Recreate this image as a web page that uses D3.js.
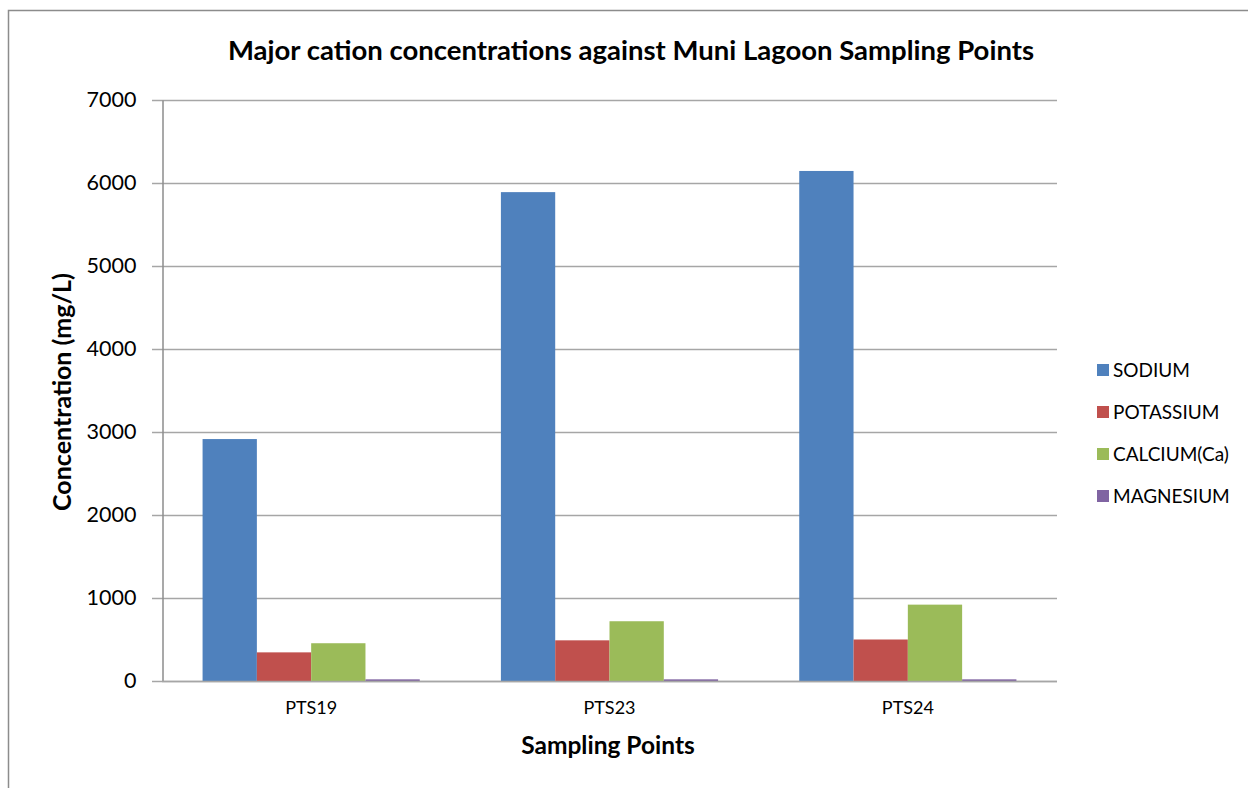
<!DOCTYPE html>
<html>
<head>
<meta charset="utf-8">
<script src="https://cdn.jsdelivr.net/npm/d3@7"></script>
<style>
  html, body { margin: 0; padding: 0; background: #fff; }
  svg { display: block; }
</style>
</head>
<body>
<svg id="chart" width="1248" height="788"></svg>
<script>
// Sampling points and cation concentrations (mg/L)
const categories = ["PTS19", "PTS23", "PTS24"];
const seriesNames = ["SODIUM", "POTASSIUM", "CALCIUM(Ca)", "MAGNESIUM"];
const sodium = [2915, 5890, 6145];
const potassium = [345, 490, 500];
const calcium = [455, 720, 920];
const magnesium = [20, 20, 20];
const yTicks = [0, 1000, 2000, 3000, 4000, 5000, 6000, 7000];
const colors = ["#4f81bd", "#c0504d", "#9bbb59", "#8064a2"];

const seriesValues = [sodium, potassium, calcium, magnesium];
const table = categories.map((c, i) => ({
  category: c,
  values: seriesNames.map((s, j) => ({ series: s, value: seriesValues[j][i] }))
}));

const svg = d3.select("#chart");
const font = "Lato, 'Open Sans', 'DejaVu Sans', sans-serif";

// Chart frame
svg.append("path")
  .attr("d", "M8.5,788 L8.5,10.5 L1248,10.5")
  .attr("fill", "none")
  .attr("stroke", "#8c8c8c")
  .attr("stroke-width", 1.5);

const plot = { left: 162, right: 1057, top: 100, bottom: 681 };

const x0 = d3.scaleBand()
  .domain(categories)
  .range([plot.left, plot.right])
  .paddingInner(0.272)
  .paddingOuter(0.136);

const x1 = d3.scaleBand()
  .domain(seriesNames)
  .range([0, x0.bandwidth()]);

const y = d3.scaleLinear()
  .domain([0, 7000])
  .range([plot.bottom, plot.top]);

const color = d3.scaleOrdinal().domain(seriesNames).range(colors);

// Gridlines
svg.append("g")
  .selectAll("line")
  .data(yTicks)
  .join("line")
  .attr("x1", plot.left - 10)
  .attr("x2", plot.right)
  .attr("y1", d => Math.round(y(d)) + 0.5)
  .attr("y2", d => Math.round(y(d)) + 0.5)
  .attr("stroke", "#a6a6a6")
  .attr("stroke-width", 1.3);

// Y axis
const yAxis = svg.append("g")
  .attr("transform", `translate(${plot.left + 0.5},0)`)
  .call(d3.axisLeft(y).tickValues(yTicks).tickSize(0).tickPadding(26).tickFormat(d3.format("d")));
yAxis.select(".domain").attr("stroke", "#8c8c8c").attr("stroke-width", 1.5);
yAxis.selectAll("text")
  .attr("font-family", font)
  .attr("font-size", 21.5)
  .attr("fill", "#000");

// Bars
svg.append("g")
  .selectAll("g")
  .data(table)
  .join("g")
  .attr("transform", d => `translate(${x0(d.category)},0)`)
  .selectAll("rect")
  .data(d => d.values)
  .join("rect")
  .attr("x", d => x1(d.series))
  .attr("width", x1.bandwidth())
  .attr("y", d => y(d.value))
  .attr("height", d => y(0) - y(d.value))
  .attr("fill", d => color(d.series));

// X axis baseline and labels
const xAxis = svg.append("g")
  .attr("transform", `translate(0,${plot.bottom + 0.5})`)
  .call(d3.axisBottom(x0).tickSize(0).tickPadding(20));
xAxis.select(".domain").attr("stroke", "#a6a6a6").attr("stroke-width", 1.3)
  .attr("d", `M${plot.left},0H${plot.right}`);
xAxis.selectAll("text")
  .attr("font-family", font)
  .attr("font-size", 18)
  .attr("fill", "#000");

// Title
svg.append("text")
  .attr("x", 631)
  .attr("y", 60)
  .attr("text-anchor", "middle")
  .attr("font-family", font)
  .attr("font-weight", "bold")
  .attr("font-size", 27.5)
  .text("Major cation concentrations against Muni Lagoon Sampling Points");

// Axis titles
svg.append("text")
  .attr("x", 608)
  .attr("y", 754)
  .attr("text-anchor", "middle")
  .attr("font-family", font)
  .attr("font-weight", "bold")
  .attr("font-size", 24.5)
  .text("Sampling Points");

svg.append("text")
  .attr("transform", "translate(71,392) rotate(-90)")
  .attr("text-anchor", "middle")
  .attr("font-family", font)
  .attr("font-weight", "bold")
  .attr("font-size", 25)
  .text("Concentration (mg/L)");

// Legend
const legend = svg.append("g")
  .selectAll("g")
  .data(seriesNames)
  .join("g")
  .attr("transform", (d, i) => `translate(1097,${370 + i * 42})`);
legend.append("rect")
  .attr("x", 0)
  .attr("y", -6)
  .attr("width", 12)
  .attr("height", 12)
  .attr("fill", d => color(d));
legend.append("text")
  .attr("x", 16)
  .attr("y", 0)
  .attr("dy", "0.35em")
  .attr("font-family", font)
  .attr("font-size", 19)
  .attr("fill", "#000")
  .text(d => d);
</script>
</body>
</html>
